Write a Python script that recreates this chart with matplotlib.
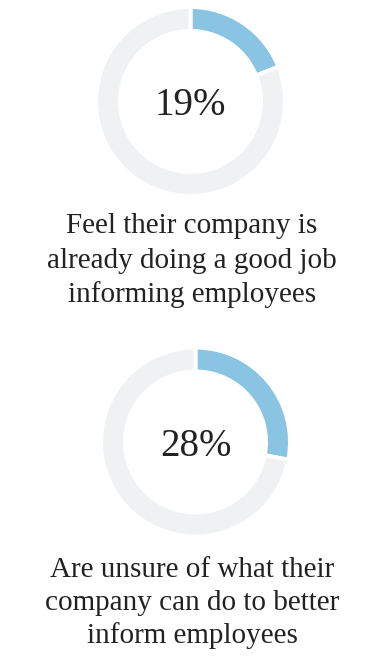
import matplotlib
matplotlib.use("Agg")
import matplotlib.pyplot as plt

W, H = 383, 659
DPI = 100

values = [19, 28]
labels_pct = ["19%", "28%"]
captions = [
    ["Feel their company is", "already doing a good job", "informing employees"],
    ["Are unsure of what their", "company can do to better", "inform employees"],
]
colors = ["#89c4e2", "#eff1f3"]

centers = [(190.5, 101.5), (195.5, 442)]
gap_px = 4.0
R = 92.5 + gap_px / 2
ring = 20.0 + gap_px
caption_baselines = [[233, 268, 302], [577, 610, 643]]
pct_baseline_offset = 13.5

fig = plt.figure(figsize=(W / DPI, H / DPI), dpi=DPI)
fig.patch.set_facecolor("white")

font = "Liberation Serif"
txt_color = "#222222"

for i, v in enumerate(values):
    cx, cy = centers[i]
    half = 110
    ax = fig.add_axes([(cx - half) / W, 1 - (cy + half) / H, 2 * half / W, 2 * half / H])
    ax.pie([v, 100 - v], startangle=90, counterclock=False, colors=colors,
           radius=1.0,
           wedgeprops=dict(width=ring / R, edgecolor="white",
                           linewidth=gap_px * 72 / DPI))
    lim = half / R
    ax.set_xlim(-lim, lim)
    ax.set_ylim(-lim, lim)
    ax.set_aspect("equal")
    ax.axis("off")
    fig.text(cx / W, 1 - (cy + pct_baseline_offset) / H, labels_pct[i],
             ha="center", va="baseline", fontsize=28,
             family=font, color=txt_color)
    for line, by in zip(captions[i], caption_baselines[i]):
        fig.text(192 / W, 1 - by / H, line, ha="center", va="baseline",
                 fontsize=21, family=font, color=txt_color)

fig.savefig("out.png", dpi=DPI, facecolor="white")
